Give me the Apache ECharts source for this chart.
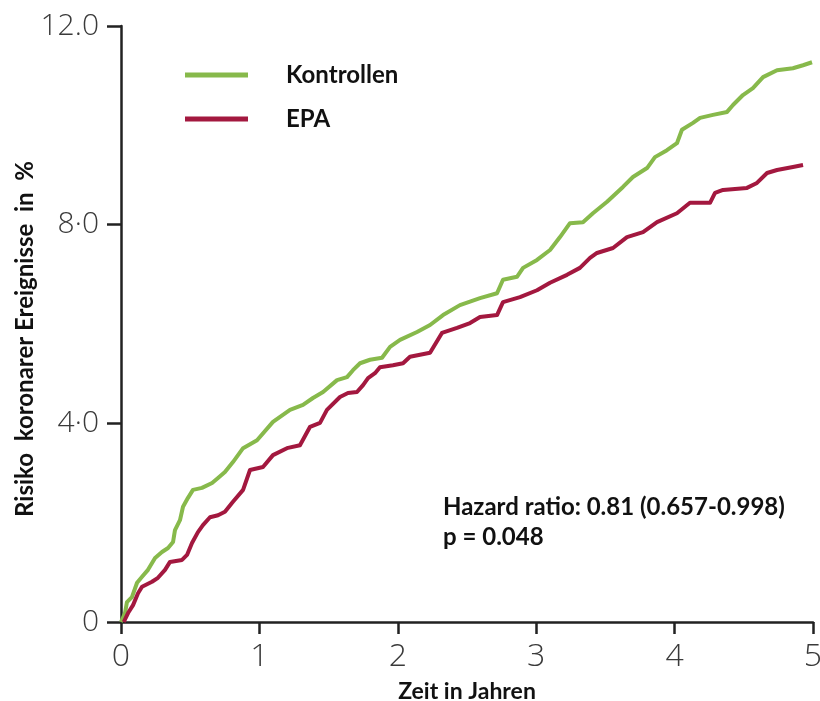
<!DOCTYPE html>
<html>
<head>
<meta charset="utf-8">
<script src="https://cdn.jsdelivr.net/npm/echarts@6/dist/echarts.min.js"></script>
<style>
html,body{margin:0;padding:0;background:#fff;}
#chart{width:820px;height:701px;}
</style>
</head>
<body>
<div id="chart"></div>
<script>
// ---- data ----
var seriesNames = ['Kontrollen', 'EPA'];
var timeKontrollen = [0, 0.029, 0.043, 0.079, 0.116, 0.152, 0.195, 0.246, 0.296, 0.340, 0.376, 0.390, 0.426, 0.448, 0.484, 0.520, 0.585, 0.658, 0.701, 0.751, 0.809, 0.882, 0.983, 1.098, 1.221, 1.315, 1.387, 1.460, 1.561, 1.633, 1.676, 1.727, 1.799, 1.886, 1.944, 2.016, 2.139, 2.233, 2.327, 2.449, 2.594, 2.717, 2.760, 2.861, 2.905, 3.006, 3.100, 3.172, 3.244, 3.338, 3.410, 3.512, 3.627, 3.699, 3.801, 3.858, 3.945, 4.017, 4.053, 4.133, 4.184, 4.277, 4.379, 4.422, 4.494, 4.566, 4.639, 4.740, 4.855, 4.928, 4.993];
var riskKontrollen = [0, 0.18, 0.40, 0.50, 0.79, 0.91, 1.05, 1.29, 1.41, 1.49, 1.61, 1.85, 2.05, 2.32, 2.50, 2.66, 2.70, 2.80, 2.90, 3.02, 3.22, 3.50, 3.66, 4.03, 4.27, 4.37, 4.51, 4.63, 4.87, 4.93, 5.07, 5.21, 5.28, 5.32, 5.54, 5.68, 5.84, 5.98, 6.18, 6.38, 6.52, 6.62, 6.89, 6.95, 7.13, 7.29, 7.49, 7.75, 8.03, 8.05, 8.23, 8.46, 8.76, 8.96, 9.14, 9.36, 9.50, 9.64, 9.91, 10.05, 10.15, 10.21, 10.27, 10.41, 10.61, 10.75, 10.97, 11.11, 11.15, 11.21, 11.27];
var timeEPA = [0.02, 0.051, 0.087, 0.123, 0.152, 0.224, 0.267, 0.318, 0.354, 0.441, 0.477, 0.513, 0.556, 0.592, 0.643, 0.701, 0.751, 0.809, 0.882, 0.932, 1.026, 1.098, 1.199, 1.293, 1.366, 1.438, 1.488, 1.582, 1.640, 1.705, 1.749, 1.785, 1.835, 1.871, 1.965, 2.038, 2.088, 2.233, 2.319, 2.428, 2.522, 2.594, 2.717, 2.760, 2.883, 3.006, 3.100, 3.223, 3.316, 3.389, 3.439, 3.555, 3.656, 3.772, 3.873, 4.017, 4.111, 4.256, 4.292, 4.350, 4.523, 4.595, 4.668, 4.740, 4.855, 4.928];
var riskEPA = [0, 0.18, 0.34, 0.58, 0.71, 0.81, 0.89, 1.05, 1.21, 1.25, 1.35, 1.59, 1.81, 1.95, 2.11, 2.15, 2.22, 2.42, 2.66, 3.06, 3.12, 3.36, 3.50, 3.56, 3.93, 4.01, 4.27, 4.53, 4.61, 4.63, 4.77, 4.91, 5.01, 5.13, 5.17, 5.21, 5.34, 5.42, 5.82, 5.92, 6.02, 6.14, 6.18, 6.44, 6.54, 6.68, 6.83, 6.99, 7.13, 7.33, 7.43, 7.53, 7.75, 7.85, 8.05, 8.23, 8.44, 8.44, 8.64, 8.70, 8.74, 8.84, 9.04, 9.10, 9.16, 9.20];
var xTicks = [0, 1, 2, 3, 4, 5];
var yTickValues = [0, 4, 8, 12];
var yTickLabels = ['0', '4·0', '8·0', '12.0'];
var xAxisTitle = 'Zeit in Jahren';
var yAxisTitle = 'Risiko  koronarer Ereignisse  in  %';
var annotationLines = ['Hazard ratio: 0.81 (0.657-0.998)', 'p = 0.048'];
var colors = ['#87b94b', '#a3183f'];

function zip(a, b) { return a.map(function (v, i) { return [v, b[i]]; }); }

var chart = echarts.init(document.getElementById('chart'), null, {renderer: 'canvas'});
var axisColor = '#222';
var labelFont = '"Open Sans", "DejaVu Sans", sans-serif';
var boldFont = 'Lato, "Open Sans", sans-serif';

function lineSeries(name, t, r, color) {
  return {
    name: name,
    type: 'line',
    data: zip(t, r),
    showSymbol: false,
    symbol: 'circle',
    symbolSize: 6,
    lineStyle: {color: color, width: 4, join: 'round'},
    itemStyle: {color: color},
    emphasis: {disabled: true},
    silent: true,
    animation: false
  };
}

chart.setOption({
  animation: false,
  grid: {left: 121, right: 7, top: 26, bottom: 79, containLabel: false, outerBoundsMode: 'none'},
  legend: {
    orient: 'vertical',
    left: 185,
    top: 63,
    padding: 0,
    icon: 'rect',
    itemWidth: 63,
    itemHeight: 5,
    itemGap: 20,
    selectedMode: false,
    data: seriesNames,
    textStyle: {fontFamily: boldFont, fontWeight: 'bold', fontSize: 24, color: '#111', lineHeight: 24, padding: [0, 0, 0, 33]}
  },
  xAxis: {
    type: 'value',
    min: 0, max: 5, interval: 1,
    name: xAxisTitle,
    nameLocation: 'middle',
    nameGap: 58,
    nameMoveOverlap: false,
    nameTextStyle: {fontFamily: boldFont, fontWeight: 'bold', fontSize: 23, color: '#111'},
    axisLine: {show: true, onZero: false, lineStyle: {color: axisColor, width: 2.5}},
    axisTick: {show: true, inside: false, length: 12, lineStyle: {color: axisColor, width: 2.5}},
    axisLabel: {
      margin: 19, fontFamily: labelFont, fontWeight: 300, fontSize: 32, color: '#3a3a3a',
      formatter: function (v) { return xTicks.indexOf(v) >= 0 ? String(v) : ''; }
    },
    splitLine: {show: false}
  },
  yAxis: {
    type: 'value',
    min: 0, max: 12, interval: 4,
    name: yAxisTitle,
    nameLocation: 'middle',
    nameRotate: 90,
    nameGap: 84,
    nameMoveOverlap: false,
    nameTextStyle: {fontFamily: boldFont, fontWeight: 'bold', fontSize: 24, color: '#111', padding: [0, 30, 0, 0]},
    axisLine: {show: true, lineStyle: {color: axisColor, width: 2.5}},
    axisTick: {show: true, inside: false, length: 14, lineStyle: {color: axisColor, width: 2.5}},
    axisLabel: {
      margin: 22, fontFamily: labelFont, fontWeight: 300, fontSize: 30, color: '#3a3a3a',
      formatter: function (v) { var i = yTickValues.indexOf(v); return i >= 0 ? yTickLabels[i] : ''; }
    },
    splitLine: {show: false}
  },
  graphic: [{
    type: 'text',
    left: 443,
    top: 492,
    silent: true,
    style: {
      text: annotationLines.join('\n'),
      fontFamily: boldFont, fontWeight: 'bold', fontSize: 24, lineHeight: 30, fill: '#111'
    }
  }],
  series: [
    lineSeries(seriesNames[0], timeKontrollen, riskKontrollen, colors[0]),
    lineSeries(seriesNames[1], timeEPA, riskEPA, colors[1])
  ]
});
</script>
</body>
</html>
